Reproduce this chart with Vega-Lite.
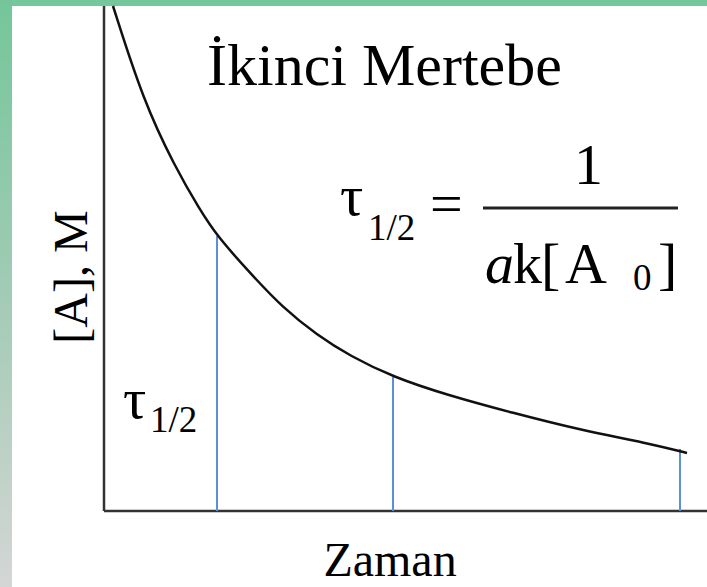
{
  "$schema": "https://vega.github.io/schema/vega-lite/v6.json",
  "autosize": "none",
  "width": 695,
  "height": 581,
  "padding": {"left": 12, "top": 6, "right": 0, "bottom": 0},
  "background": "#76c79b",
  "config": {"view": {"fill": "white", "stroke": null}, "font": "'Liberation Serif', 'Times New Roman', serif", "text": {"color": "#000000"}},
  "datasets": {
    "curve": [
      {"t": 9, "c": 505}, {"t": 39, "c": 411}, {"t": 71, "c": 344}, {"t": 96, "c": 301},
      {"t": 113, "c": 275}, {"t": 146, "c": 238}, {"t": 179, "c": 203}, {"t": 213, "c": 176},
      {"t": 246, "c": 155}, {"t": 289, "c": 134}, {"t": 343, "c": 116}, {"t": 409, "c": 98},
      {"t": 476, "c": 81}, {"t": 543, "c": 68}, {"t": 583, "c": 58}
    ],
    "halves": [{"t": 113, "c": 275, "b": 0}, {"t": 289, "c": 134, "b": 0}, {"t": 576, "c": 62, "b": 0}],
    "segments": [
      {"id": "yaxis", "x": 0, "y": 0, "x2": 0, "y2": 505},
      {"id": "xaxis", "x": 0, "y": 0, "x2": 603, "y2": 0},
      {"id": "frac", "x": 379, "y": 303, "x2": 574, "y2": 303}
    ],
    "frame": [{"x": -104, "x2": -92, "y": 511, "y2": -76}],
    "labels": [
      {"id": "title", "x": 103, "y": 426, "text": "İkinci Mertebe"},
      {"id": "tau", "x": 236, "y": 296, "text": "τ"},
      {"id": "sub", "x": 264, "y": 271, "text": "1/2"},
      {"id": "eq", "x": 326, "y": 288, "text": "="},
      {"id": "num", "x": 470, "y": 327, "text": "1"},
      {"id": "a", "x": 381, "y": 228, "text": "a"},
      {"id": "k", "x": 409, "y": 228, "text": "k"},
      {"id": "lb", "x": 437, "y": 228, "text": "["},
      {"id": "A", "x": 461, "y": 228, "text": "A"},
      {"id": "zero", "x": 529, "y": 221, "text": "0"},
      {"id": "br", "x": 554, "y": 228, "text": "]"},
      {"id": "tau2", "x": 19, "y": 93, "text": "τ"},
      {"id": "sub2", "x": 46, "y": 79, "text": "1/2"},
      {"id": "ylab", "x": -31, "y": 234, "text": "[A], M"},
      {"id": "xlab", "x": 286, "y": -65, "text": "Zaman"}
    ]
  },
  "layer": [
    {
      "data": {"name": "frame"},
      "mark": {"type": "rect", "clip": false, "color": {"gradient": "linear", "x1": 0, "y1": 0, "x2": 0, "y2": 1, "stops": [{"offset": 0, "color": "#74c69a"}, {"offset": 0.5, "color": "#a2cbb5"}, {"offset": 1, "color": "#d4d6d5"}]}},
      "encoding": {
        "x": {"field": "x", "type": "quantitative", "scale": {"domain": [-92, 603], "nice": false, "zero": false}, "axis": null},
        "x2": {"field": "x2"},
        "y": {"field": "y", "type": "quantitative", "scale": {"domain": [-76, 505], "nice": false, "zero": false}, "axis": null},
        "y2": {"field": "y2"}
      }
    },
    {
      "data": {"name": "segments"},
      "transform": [{"filter": "datum.id !== 'frac'"}],
      "mark": {"type": "rule", "color": "#333333", "strokeWidth": 2.5},
      "encoding": {
        "x": {"field": "x", "type": "quantitative", "scale": {"domain": [-92, 603], "nice": false, "zero": false}, "axis": null},
        "x2": {"field": "x2"},
        "y": {"field": "y", "type": "quantitative", "scale": {"domain": [-76, 505], "nice": false, "zero": false}, "axis": null},
        "y2": {"field": "y2"}
      }
    },
    {
      "data": {"name": "segments"},
      "transform": [{"filter": "datum.id === 'frac'"}],
      "mark": {"type": "rule", "color": "#222222", "strokeWidth": 3},
      "encoding": {
        "x": {"field": "x", "type": "quantitative", "scale": {"domain": [-92, 603], "nice": false, "zero": false}, "axis": null},
        "x2": {"field": "x2"},
        "y": {"field": "y", "type": "quantitative", "scale": {"domain": [-76, 505], "nice": false, "zero": false}, "axis": null},
        "y2": {"field": "y2"}
      }
    },
    {
      "data": {"name": "halves"},
      "mark": {"type": "rule", "color": "#5b8fd6", "strokeWidth": 2},
      "encoding": {
        "x": {"field": "t", "type": "quantitative", "scale": {"domain": [-92, 603], "nice": false, "zero": false}, "axis": null},
        "y": {"field": "b", "type": "quantitative", "scale": {"domain": [-76, 505], "nice": false, "zero": false}, "axis": null},
        "y2": {"field": "c"}
      }
    },
    {
      "data": {"name": "curve"},
      "mark": {"type": "line", "color": "#111111", "strokeWidth": 2.5, "interpolate": "basis"},
      "encoding": {
        "x": {"field": "t", "type": "quantitative", "scale": {"domain": [-92, 603], "nice": false, "zero": false}, "axis": null},
        "y": {"field": "c", "type": "quantitative", "scale": {"domain": [-76, 505], "nice": false, "zero": false}, "axis": null}
      }
    },
    {
      "data": {"name": "labels"},
      "transform": [{"filter": "datum.id === 'title'"}],
      "mark": {"type": "text", "fontSize": 60, "align": "left", "baseline": "alphabetic"},
      "encoding": {
        "x": {"field": "x", "type": "quantitative", "scale": {"domain": [-92, 603], "nice": false, "zero": false}, "axis": null},
        "y": {"field": "y", "type": "quantitative", "scale": {"domain": [-76, 505], "nice": false, "zero": false}, "axis": null},
        "text": {"field": "text"}
      }
    },
    {
      "data": {"name": "labels"},
      "transform": [{"filter": "indexof(['num','k','lb','A','br','tau','tau2','eq'], datum.id) >= 0"}],
      "mark": {"type": "text", "fontSize": 58, "align": "left", "baseline": "alphabetic"},
      "encoding": {
        "x": {"field": "x", "type": "quantitative", "scale": {"domain": [-92, 603], "nice": false, "zero": false}, "axis": null},
        "y": {"field": "y", "type": "quantitative", "scale": {"domain": [-76, 505], "nice": false, "zero": false}, "axis": null},
        "text": {"field": "text"}
      }
    },
    {
      "data": {"name": "labels"},
      "transform": [{"filter": "datum.id === 'a'"}],
      "mark": {"type": "text", "fontSize": 58, "align": "left", "baseline": "alphabetic", "fontStyle": "italic"},
      "encoding": {
        "x": {"field": "x", "type": "quantitative", "scale": {"domain": [-92, 603], "nice": false, "zero": false}, "axis": null},
        "y": {"field": "y", "type": "quantitative", "scale": {"domain": [-76, 505], "nice": false, "zero": false}, "axis": null},
        "text": {"field": "text"}
      }
    },
    {
      "data": {"name": "labels"},
      "transform": [{"filter": "indexof(['sub','sub2','zero'], datum.id) >= 0"}],
      "mark": {"type": "text", "fontSize": 37, "align": "left", "baseline": "alphabetic"},
      "encoding": {
        "x": {"field": "x", "type": "quantitative", "scale": {"domain": [-92, 603], "nice": false, "zero": false}, "axis": null},
        "y": {"field": "y", "type": "quantitative", "scale": {"domain": [-76, 505], "nice": false, "zero": false}, "axis": null},
        "text": {"field": "text"}
      }
    },
    {
      "data": {"name": "labels"},
      "transform": [{"filter": "datum.id === 'ylab'"}],
      "mark": {"type": "text", "fontSize": 48, "align": "center", "baseline": "middle", "angle": 270},
      "encoding": {
        "x": {"field": "x", "type": "quantitative", "scale": {"domain": [-92, 603], "nice": false, "zero": false}, "axis": null},
        "y": {"field": "y", "type": "quantitative", "scale": {"domain": [-76, 505], "nice": false, "zero": false}, "axis": null},
        "text": {"field": "text"}
      }
    },
    {
      "data": {"name": "labels"},
      "transform": [{"filter": "datum.id === 'xlab'"}],
      "mark": {"type": "text", "fontSize": 48, "align": "center", "baseline": "alphabetic"},
      "encoding": {
        "x": {"field": "x", "type": "quantitative", "scale": {"domain": [-92, 603], "nice": false, "zero": false}, "axis": null},
        "y": {"field": "y", "type": "quantitative", "scale": {"domain": [-76, 505], "nice": false, "zero": false}, "axis": null},
        "text": {"field": "text"}
      }
    }
  ]
}
